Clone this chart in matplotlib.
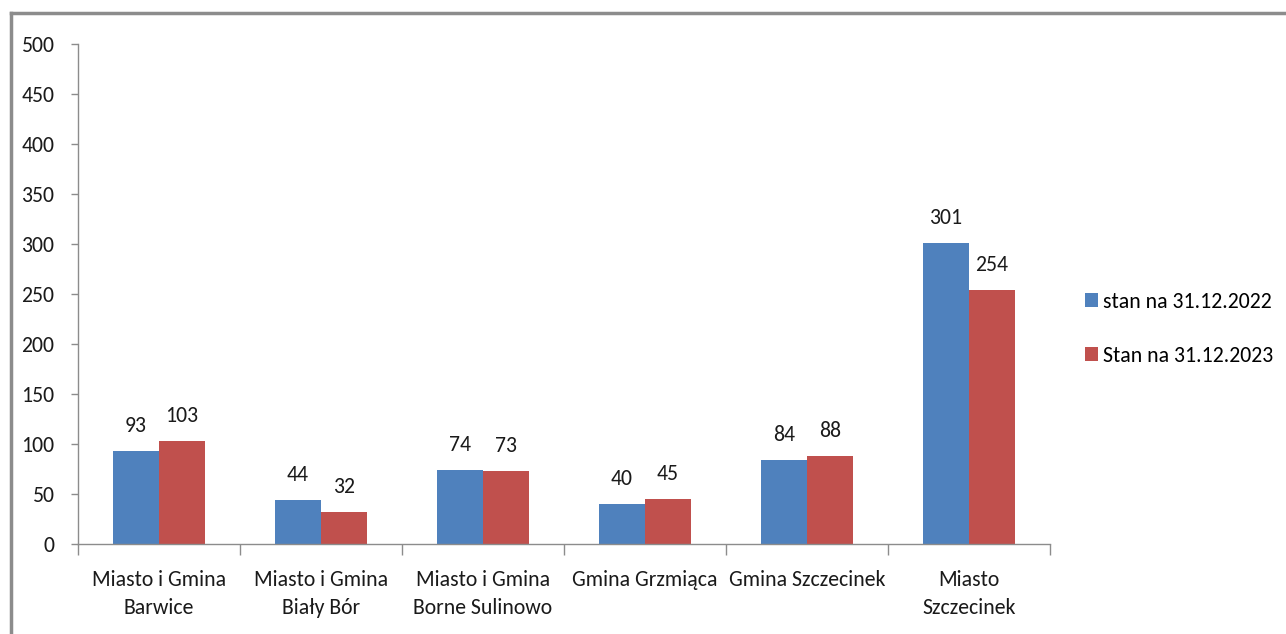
import matplotlib
matplotlib.use("Agg")
import matplotlib.pyplot as plt
from matplotlib import font_manager
from matplotlib.lines import Line2D
import numpy as np

categories = ["Miasto i Gmina\nBarwice", "Miasto i Gmina\nBiały Bór", "Miasto i Gmina\nBorne Sulinowo",
              "Gmina Grzmiąca", "Gmina Szczecinek", "Miasto\nSzczecinek"]
values_2022 = [93, 44, 74, 40, 84, 301]
values_2023 = [103, 32, 73, 45, 88, 254]
series_labels = ["stan na 31.12.2022", "Stan na 31.12.2023"]
yticks = [0, 50, 100, 150, 200, 250, 300, 350, 400, 450, 500]

names = {f.name for f in font_manager.fontManager.ttflist}
fam = "DejaVu Sans"
for cand in ["Carlito", "Calibri", "Liberation Sans Narrow", "Open Sans Condensed", "Asap Condensed", "Archivo Narrow"]:
    if cand in names:
        fam = cand
        break
plt.rcParams['font.family'] = [fam, 'DejaVu Sans']
FS = 15.7

fig = plt.figure(figsize=(12.86, 6.34), dpi=100)
ax = fig.add_axes([78/1286, 1-544/634, (1050-78)/1286, 500/634])

x = np.arange(len(categories))
w = 0.284
blue = "#4f81bd"
red = "#c0504d"
b1 = ax.bar(x - w/2, values_2022, w, color=blue, label=series_labels[0])
b2 = ax.bar(x + w/2, values_2023, w, color=red, label=series_labels[1])
for bars, vals in ((b1, values_2022), (b2, values_2023)):
    for r, v in zip(bars, vals):
        ax.text(r.get_x() + r.get_width()/2, v + 15, str(v), ha="center", va="bottom",
                fontsize=FS, color="#1a1a1a")

ax.set_xlim(-0.5, len(categories) - 0.5)
ax.set_ylim(0, 500)
ax.set_yticks(yticks)
ax.set_xticks(x)
ax.set_xticklabels(categories, fontsize=FS, color="#1a1a1a", linespacing=1.5)
ax.set_xticks(np.arange(len(categories) + 1) - 0.5, minor=True)
ax.tick_params(axis="x", which="major", length=0, pad=19)
ax.tick_params(axis="x", which="minor", length=8, color="#8c8c8c", width=1)
ax.tick_params(axis="y", length=5, color="#8c8c8c", width=1, labelsize=FS, labelcolor="#1a1a1a", pad=12)
for s in ("top", "right"):
    ax.spines[s].set_visible(False)
for s in ("left", "bottom"):
    ax.spines[s].set_color("#8c8c8c")
    ax.spines[s].set_linewidth(1)

leg = fig.legend(handles=[b1, b2], labels=series_labels, loc="center left",
                 bbox_to_anchor=(1065/1286, 1-329/634), frameon=False, fontsize=FS,
                 handlelength=0.6, handleheight=0.6, handletextpad=0.25, labelspacing=1.55)

fig.add_artist(Line2D([11/1286, 11/1286], [0, 1-13/634], color="#8c8c8c", lw=2.5, transform=fig.transFigure))
fig.add_artist(Line2D([11/1286, 1], [1-13/634, 1-13/634], color="#8c8c8c", lw=2.5, transform=fig.transFigure))

fig.savefig("out.png", dpi=100)
